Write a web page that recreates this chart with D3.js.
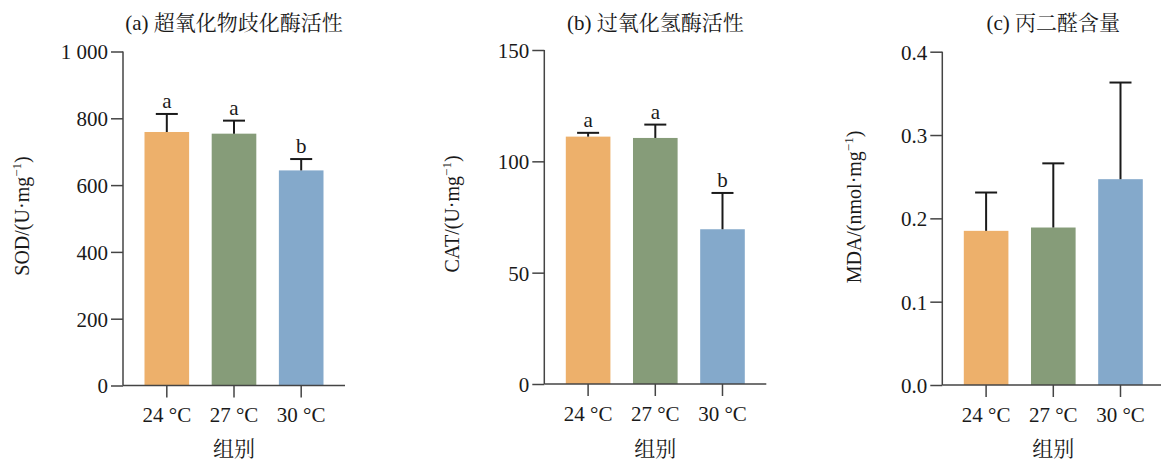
<!DOCTYPE html>
<html>
<head>
<meta charset="utf-8">
<script src="https://cdn.jsdelivr.net/npm/d3@7"></script>
<style>
  html, body { margin: 0; padding: 0; background: #ffffff; }
  svg { display: block; }
  text { font-family: "Liberation Serif", "Times New Roman", "Noto Serif CJK SC", "Noto Sans CJK SC", serif; fill: #1a1a1a; }
</style>
</head>
<body>
<svg id="chart" width="1161" height="461"></svg>
<script>
// Temperature groups
const groups = ["24 °C", "27 °C", "30 °C"];
const barColors = ["#EDB06B", "#869C79", "#84A9CB"];

// (a) SOD activity
const sodMean = [759, 754, 644];
const sodErr = [54, 39, 34];
const sodLetters = ["a", "a", "b"];
const sodTicks = [0, 200, 400, 600, 800, 1000];

// (b) CAT activity
const catMean = [111.1, 110.5, 69.5];
const catErr = [1.7, 6.0, 16.3];
const catLetters = ["a", "a", "b"];
const catTicks = [0, 50, 100, 150];

// (c) MDA content
const mdaMean = [0.185, 0.189, 0.247];
const mdaErr = [0.046, 0.077, 0.116];
const mdaLetters = ["", "", ""];
const mdaTicks = [0.0, 0.1, 0.2, 0.3, 0.4];

const svg = d3.select("#chart");
const axisColor = "#444";

function panel(opt) {
  const g = svg.append("g");
  const x = d3.scaleBand().domain(groups)
    .range([opt.left, opt.left + 222]).paddingInner(0.336).paddingOuter(0.32);
  const y = d3.scaleLinear().domain([0, opt.max]).range([opt.bottom, opt.top]);

  // bars
  g.selectAll("rect.bar").data(groups).join("rect")
    .attr("class", "bar")
    .attr("x", d => x(d))
    .attr("width", x.bandwidth())
    .attr("y", (d, i) => y(opt.mean[i]))
    .attr("height", (d, i) => y(0) - y(opt.mean[i]))
    .attr("fill", (d, i) => barColors[i]);

  // upper error bars
  const cx = d => x(d) + x.bandwidth() / 2;
  const eb = g.selectAll("g.err").data(groups).join("g").attr("class", "err")
    .attr("stroke", "#1a1a1a").attr("stroke-width", 2);
  eb.append("line")
    .attr("x1", d => cx(d)).attr("x2", d => cx(d))
    .attr("y1", (d, i) => y(opt.mean[i]))
    .attr("y2", (d, i) => y(opt.mean[i] + opt.err[i]));
  eb.append("line")
    .attr("x1", d => cx(d) - 11).attr("x2", d => cx(d) + 11)
    .attr("y1", (d, i) => y(opt.mean[i] + opt.err[i]))
    .attr("y2", (d, i) => y(opt.mean[i] + opt.err[i]));

  // significance letters
  g.selectAll("text.sig").data(groups).join("text")
    .attr("class", "sig")
    .attr("x", d => cx(d))
    .attr("y", (d, i) => y(opt.mean[i] + opt.err[i]) - 6)
    .attr("text-anchor", "middle")
    .attr("font-size", 21)
    .text((d, i) => opt.letters[i]);

  // y axis
  const yAxis = d3.axisLeft(y).tickValues(opt.ticks).tickSize(12).tickPadding(3)
    .tickFormat(opt.fmt);
  const ya = g.append("g").attr("transform", `translate(${opt.left},0)`).call(yAxis);
  // x axis
  const xAxis = d3.axisBottom(x).tickSize(12).tickPadding(6);
  const xa = g.append("g").attr("transform", `translate(0,${opt.bottom})`).call(xAxis);
  [ya, xa].forEach(a => {
    a.select(".domain").attr("stroke", axisColor).attr("stroke-width", 1.5)
      .attr("d", a === ya ? `M0,${opt.top}V${opt.bottom}` : `M${opt.left},0H${opt.left + 222}`);
    a.selectAll(".tick line").attr("stroke", axisColor).attr("stroke-width", 1.5);
    a.selectAll(".tick text").attr("font-size", 21).attr("fill", "#1a1a1a")
      .attr("font-family", "Liberation Serif, serif");
  });
  ya.selectAll(".tick text").attr("dy", "0.35em");
  xa.selectAll(".tick text").attr("dy", "0.9em");

  // title
  svg.append("text").attr("x", opt.left + 111).attr("y", 30)
    .attr("text-anchor", "middle").attr("font-size", 21).text(opt.title);
  // x label
  svg.append("text").attr("x", opt.left + 111).attr("y", 456)
    .attr("text-anchor", "middle").attr("font-size", 21).text("组别");
  // y label with superscript
  const yl = svg.append("text")
    .attr("transform", `translate(${opt.ylx},${opt.yly}) rotate(-90)`)
    .attr("text-anchor", "middle").attr("font-size", 20);
  yl.append("tspan").text(opt.ylabel);
  yl.append("tspan").attr("font-size", 13).attr("dy", -8).text("−1");
  yl.append("tspan").attr("dy", 8).text(")");
}

panel({ left: 123, top: 51.5, bottom: 385.5, max: 1000, mean: sodMean, err: sodErr,
  letters: sodLetters, ticks: sodTicks,
  fmt: d => d >= 1000 ? d3.format(",")(d).replace(",", " ") : d,
  title: "(a) 超氧化物歧化酶活性", ylabel: "SOD/(U·mg", ylx: 29, yly: 216 });
panel({ left: 544.3, top: 50, bottom: 384, max: 150, mean: catMean, err: catErr,
  letters: catLetters, ticks: catTicks, fmt: d => d,
  title: "(b) 过氧化氢酶活性", ylabel: "CAT/(U·mg", ylx: 459, yly: 214 });
panel({ left: 942.3, top: 51.7, bottom: 385, max: 0.4, mean: mdaMean, err: mdaErr,
  letters: mdaLetters, ticks: mdaTicks, fmt: d3.format(".1f"),
  title: "(c) 丙二醛含量", ylabel: "MDA/(nmol·mg", ylx: 861, yly: 207 });
</script>
</body>
</html>
